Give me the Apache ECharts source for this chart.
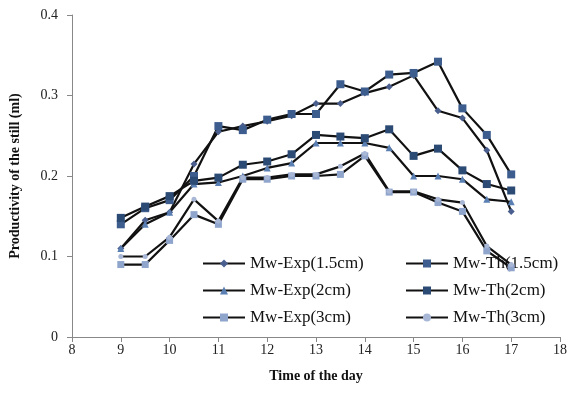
<!DOCTYPE html>
<html><head><meta charset="utf-8">
<script src="https://cdn.jsdelivr.net/npm/echarts@6/dist/echarts.min.js"></script>
<style>html,body{margin:0;padding:0;background:#fff}#c{width:570px;height:393px}</style>
</head><body><div id="c"></div>
<script>
var times = [9, 9.5, 10, 10.5, 11, 11.5, 12, 12.5, 13, 13.5, 14, 14.5, 15, 15.5, 16, 16.5, 17];
var expA = [0.11, 0.145, 0.155, 0.215, 0.255, 0.262, 0.268, 0.275, 0.29, 0.29, 0.303, 0.311, 0.325, 0.281, 0.272, 0.232, 0.156];
var thA  = [0.14, 0.16, 0.17, 0.2, 0.262, 0.257, 0.27, 0.277, 0.277, 0.314, 0.305, 0.326, 0.328, 0.342, 0.284, 0.251, 0.202];
var expB = [0.11, 0.14, 0.155, 0.19, 0.192, 0.2, 0.21, 0.216, 0.241, 0.241, 0.241, 0.235, 0.2, 0.2, 0.196, 0.171, 0.168];
var thB  = [0.148, 0.162, 0.175, 0.194, 0.198, 0.214, 0.218, 0.227, 0.251, 0.249, 0.247, 0.258, 0.225, 0.234, 0.207, 0.19, 0.182];
var expC = [0.09, 0.09, 0.12, 0.152, 0.14, 0.196, 0.196, 0.2, 0.2, 0.202, 0.225, 0.18, 0.18, 0.167, 0.156, 0.107, 0.086];
var thC  = [0.1, 0.1, 0.124, 0.171, 0.144, 0.198, 0.198, 0.202, 0.202, 0.212, 0.228, 0.181, 0.181, 0.171, 0.167, 0.113, 0.09];
var names = ['Mw-Exp(1.5cm)', 'Mw-Th(1.5cm)', 'Mw-Exp(2cm)', 'Mw-Th(2cm)', 'Mw-Exp(3cm)', 'Mw-Th(3cm)'];
var yTicks = [0, 0.1, 0.2, 0.3, 0.4];

function pairs(v){ return times.map(function(t,i){ return [t, v[i]]; }); }
var serif = 'Liberation Serif';
var styles = [
  {sym:'diamond', size:7, color:'#4a5f8e'},
  {sym:'rect', size:8, color:'#3d5d8e'},
  {sym:'triangle', size:7, color:'#5a7fb3'},
  {sym:'rect', size:8, color:'#2b4a74'},
  {sym:'rect', size:7, color:'#8fa5cc'},
  {sym:'circle', size:5, color:'#a9b7d6'}
];
var vals = [expA, thA, expB, thB, expC, thC];
var series = names.map(function(n,i){
  return {
    name:n, type:'line', z:3, data:pairs(vals[i]),
    symbol:styles[i].sym, symbolSize:styles[i].size, showSymbol:true,
    lineStyle:{color:'#111', width:2.2},
    itemStyle:{color:styles[i].color, borderColor:styles[i].color, borderWidth:0},
    emphasis:{disabled:true}, animation:false
  };
});
var chart = echarts.init(document.getElementById('c'), null, {renderer:'canvas'});
var legText = {fontFamily:serif, fontSize:17, color:'#111'};
chart.setOption({
  animation:false,
  backgroundColor:'#fff',
  grid:{left:68.5, right:6.5, top:15, bottom:56},
  xAxis:{type:'value', min:8, max:18, interval:1,
    name:'Time of the day', nameLocation:'middle', nameGap:32,
    nameTextStyle:{fontFamily:serif, fontSize:14, fontWeight:'bold', color:'#111'},
    axisLine:{lineStyle:{color:'#888', width:1}},
    axisTick:{show:true, inside:false, length:5, lineStyle:{color:'#888'}},
    axisLabel:{fontFamily:serif, fontSize:14, color:'#222', margin:6},
    splitLine:{show:false}},
  yAxis:{type:'value', min:yTicks[0], max:yTicks[yTicks.length-1], interval:0.1,
    name:'Productivity of the still (ml)', nameLocation:'middle', nameGap:50, nameRotate:90,
    nameTextStyle:{fontFamily:serif, fontSize:14, fontWeight:'bold', color:'#111'},
    axisLine:{show:true, lineStyle:{color:'#888', width:1}},
    axisTick:{show:true, inside:false, length:5, lineStyle:{color:'#888'}},
    axisLabel:{fontFamily:serif, fontSize:14, color:'#222', margin:14,
      formatter:function(v){ return v === 0 ? '0' : v.toFixed(1); }},
    splitLine:{show:false}},
  legend:[
    {data:[names[0], names[2], names[4]], orient:'vertical', left:197, top:250, itemGap:10,
     itemWidth:42, itemHeight:10, textStyle:legText, z:1, selectedMode:false},
    {data:[names[1], names[3], names[5]], orient:'vertical', left:400, top:250, itemGap:10,
     itemWidth:42, itemHeight:10, textStyle:legText, z:1, selectedMode:false}
  ],
  series:series
});
</script></body></html>
